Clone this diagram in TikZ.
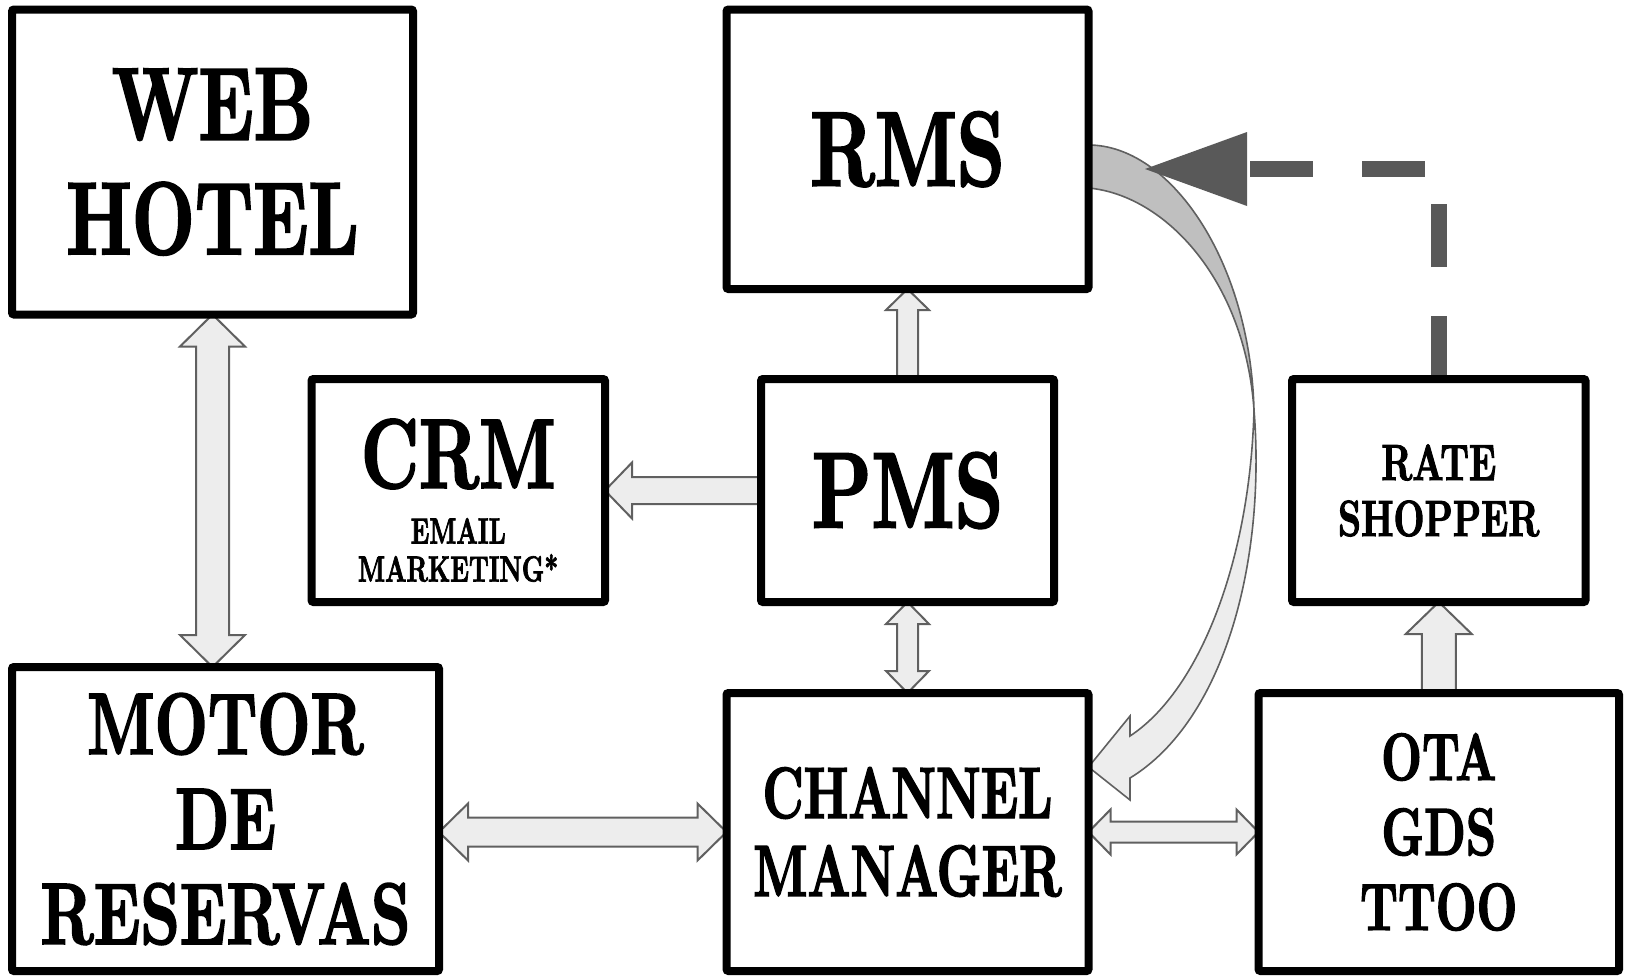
\documentclass[tikz,border=0pt]{standalone}
\usepackage{fontspec}
\newfontfamily\pf{lmroman10-bold.otf}[FakeStretch=0.705,FakeBold=1.8]
\newfontfamily\pfn{lmroman10-bold.otf}[FakeStretch=0.68,FakeBold=1.8]
\usetikzlibrary{calc,arrows.meta,backgrounds}
\definecolor{arrowfill}{HTML}{EDEDED}
\definecolor{arrowline}{HTML}{606060}
\definecolor{curvedark}{HTML}{BFBFBF}
\definecolor{dashgray}{HTML}{595959}
% #1 top tip, #2 bottom tip, #3 half shaft, #4 half head, #5 head length
\newcommand{\FatV}[5]{\draw[fat] #1 -- ($#1+(#4,#5)$) -- ($#1+(#3,#5)$) -- ($#2+(#3,-#5)$) -- ($#2+(#4,-#5)$) -- #2 -- ($#2+(-#4,-#5)$) -- ($#2+(-#3,-#5)$) -- ($#1+(-#3,#5)$) -- ($#1+(-#4,#5)$) -- cycle;}
% #1 left tip, #2 right tip
\newcommand{\FatH}[5]{\draw[fat] #1 -- ($#1+(#5,-#4)$) -- ($#1+(#5,-#3)$) -- ($#2+(-#5,-#3)$) -- ($#2+(-#5,-#4)$) -- #2 -- ($#2+(-#5,#4)$) -- ($#2+(-#5,#3)$) -- ($#1+(#5,#3)$) -- ($#1+(#5,#4)$) -- cycle;}
% #1 tail (bottom), #2 tip (top)
\newcommand{\FatUp}[5]{\draw[fat] #2 -- ($#2+(#4,#5)$) -- ($#2+(#3,#5)$) -- ($#1+(#3,0)$) -- ($#1+(-#3,0)$) -- ($#2+(-#3,#5)$) -- ($#2+(-#4,#5)$) -- cycle;}
% #1 tail (right), #2 tip (left)
\newcommand{\FatLeft}[5]{\draw[fat] #2 -- ($#2+(#5,-#4)$) -- ($#2+(#5,-#3)$) -- ($#1+(0,-#3)$) -- ($#1+(0,#3)$) -- ($#2+(#5,#3)$) -- ($#2+(#5,#4)$) -- cycle;}
\begin{document}
\begin{tikzpicture}[x=0.75pt,y=-0.75pt,
  box/.style={draw=black,line width=6pt,rounded corners=1.5pt,inner sep=0pt,outer sep=0pt,align=center},
  fat/.style={draw=arrowline,fill=arrowfill,line width=1.5pt,line join=miter},
  bendline/.style={draw=arrowline,line width=1.2pt,line join=miter},
  dashline/.style={draw=dashgray,line width=12pt,dash pattern=on 47.25pt off 36.75pt,-{Triangle[length=76.5pt,width=55.5pt,line width=0pt]}},
  txt/.style={inner sep=0pt,outer sep=0pt,align=center}]
\useasboundingbox (0,0) rectangle (1627,975);

\node[box,minimum width=401*0.75pt,minimum height=305*0.75pt,font={\pf\fontsize{77.6pt}{85.9pt}\selectfont}] (web) at (212.5,162) {WEB\\HOTEL};
\node[box,minimum width=362*0.75pt,minimum height=279.5*0.75pt,font={\pf\fontsize{79.8pt}{80pt}\selectfont}] (rms) at (907.5,149.25) {RMS};
\node[box,minimum width=293.5*0.75pt,minimum height=223*0.75pt] (crm) at (458.25,490.5) {};
\node[txt,font={\pf\fontsize{74.3pt}{75pt}\selectfont}] (crmT) at (458.25,454) {CRM};
\node[txt,font={\pfn\fontsize{27.3pt}{28.5pt}\selectfont}] (crmS) at (458.25,550) {EMAIL\\MARKETING*};
\node[box,minimum width=293*0.75pt,minimum height=223*0.75pt,font={\pf\fontsize{80.9pt}{81pt}\selectfont}] (pms) at (907.5,490.5) {PMS};
\node[box,minimum width=293.5*0.75pt,minimum height=223*0.75pt,font={\pf\fontsize{38.3pt}{42pt}\selectfont}] (rate) at (1438.75,490.5) {RATE\\SHOPPER};
\node[box,minimum width=427*0.75pt,minimum height=304*0.75pt,font={\pf\fontsize{65.6pt}{71.25pt}\selectfont}] (motor) at (225.5,819) {MOTOR\\DE\\RESERVAS};
\node[box,minimum width=362*0.75pt,minimum height=278*0.75pt,font={\pfn\fontsize{54.7pt}{58.5pt}\selectfont}] (channel) at (907.5,832) {CHANNEL\\MANAGER};
\node[box,minimum width=360.5*0.75pt,minimum height=278*0.75pt,font={\pf\fontsize{50.3pt}{56.25pt}\selectfont}] (ota) at (1438.75,832) {OTA\\GDS\\TTOO};

\coordinate (wmB) at (web.south |- motor.north);
\coordinate (mcL) at (motor.east |- channel.west);
\coordinate (pcB) at (pms.south |- channel.north);
\coordinate (dashTip) at (1145,169);

\begin{scope}[on background layer]
\FatV{(web.south)}{(wmB)}{16.5}{32.5}{32}
\FatLeft{(pms.west)}{(crm.east)}{13.5}{28}{27}
\FatUp{(pms.north)}{(rms.south)}{10.5}{21.5}{21}
\FatV{(pms.south)}{(pcB)}{10.5}{21.5}{22}
\FatH{(mcL)}{(channel.west)}{14.5}{28.5}{29}
\FatH{(channel.east)}{(ota.west)}{10.5}{22.5}{22}
\FatUp{(ota.north)}{(rate.south)}{17}{33}{32}
% curved arrow RMS -> CHANNEL MANAGER
\draw[bendline,fill=curvedark] (1088.5,145) .. controls (1170,145) and (1250,260) .. (1254,410)
  .. controls (1245,280) and (1165,195) .. (1088.5,188) -- cycle;
\draw[bendline,fill=arrowfill] (1254,410) .. controls (1266,560) and (1225,720) .. (1130,778)
  -- (1130,800) -- (channel.east |- 0,767) -- (1130,716) -- (1130,736)
  .. controls (1200,690) and (1250,560) .. (1254,410) -- cycle;
% dashed arrow RATE SHOPPER -> RMS
\draw[dashline] (rate.north) |- (dashTip);
\end{scope}
\end{tikzpicture}
\end{document}
